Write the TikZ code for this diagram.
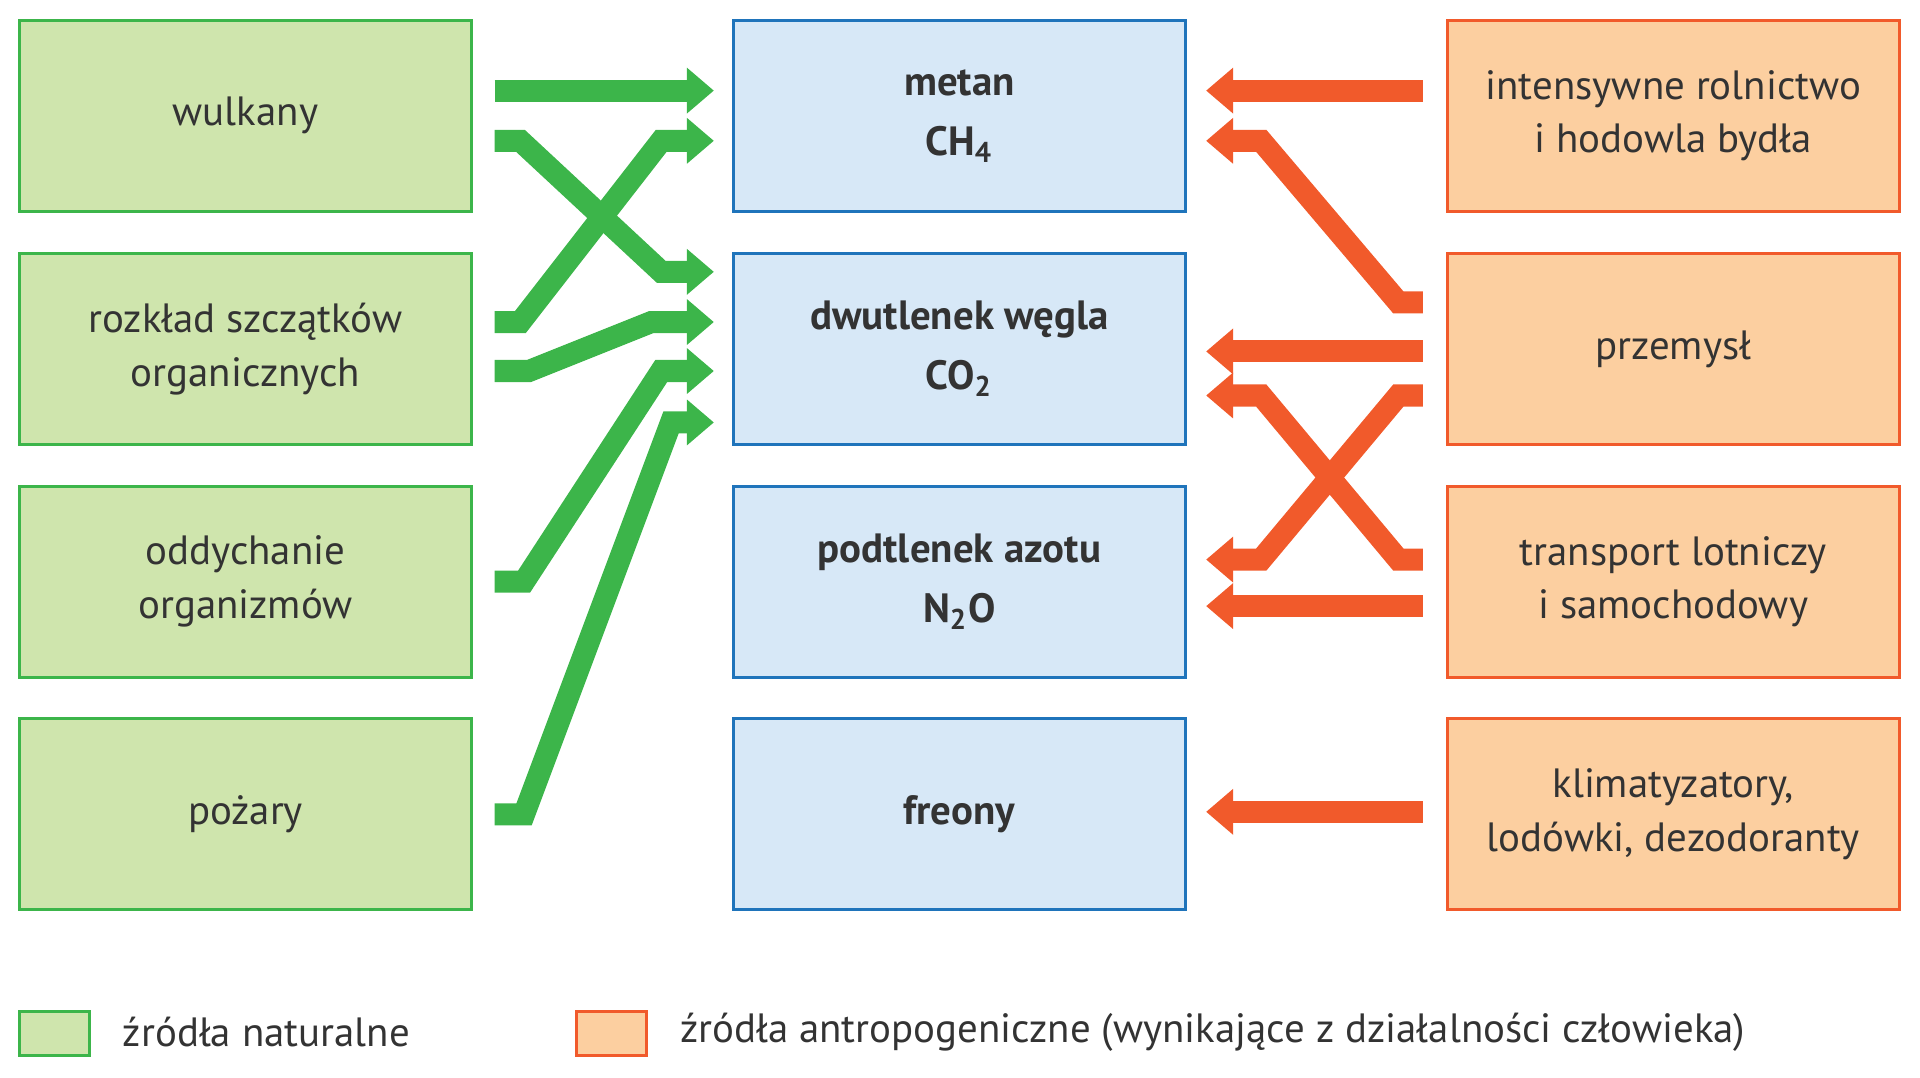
\documentclass[tikz,border=0pt]{standalone}
\usepackage{fontspec}
\setmainfont{PT Sans}
\usetikzlibrary{arrows.meta}
\definecolor{gfill}{HTML}{CFE5AD}
\definecolor{gline}{HTML}{3CB54A}
\definecolor{bfill}{HTML}{D7E8F7}
\definecolor{bline}{HTML}{1F74BB}
\definecolor{ofill}{HTML}{FCCFA0}
\definecolor{oline}{HTML}{F15A2B}
\definecolor{txt}{HTML}{333333}
\begin{document}
\begin{tikzpicture}[x=0.1mm,y=-0.1mm,
 box/.style={draw,line width=0.25mm,minimum width=36.9mm,minimum height=15.6mm,align=center,text=txt,font=\fontsize{9.5}{12.5}\selectfont},
 gbox/.style={box,fill=gfill,draw=gline},
 bbox/.style={box,fill=bfill,draw=bline,font=\fontsize{9.5}{14}\selectfont\bfseries},
 obox/.style={box,fill=ofill,draw=oline},
 band/.style={line width=1.8mm,line join=miter,-{Triangle[width=3.6mm,length=2.2mm]}},
 garr/.style={band,draw=gline},
 oarr/.style={band,draw=oline}]
\useasboundingbox (0,0) rectangle (1568,880);
\node[gbox] (l1) at (200.5,94.5) {wulkany};
\node[gbox] (l2) at (200.5,285) {rozkład szczątków\\organicznych};
\node[gbox] (l3) at (200.5,475) {oddychanie\\organizmów};
\node[gbox] (l4) at (200.5,665) {pożary};
\node[bbox] (m1) at (783.5,94.5) {metan\\CH\textsubscript{4}};
\node[bbox] (m2) at (783.5,285) {dwutlenek węgla\\CO\textsubscript{2}};
\node[bbox] (m3) at (783.5,475) {podtlenek azotu\\N\textsubscript{2}O};
\node[bbox] (m4) at (783.5,665) {freony};
\node[obox] (r1) at (1366.5,94.5) {intensywne rolnictwo\\i hodowla bydła};
\node[obox] (r2) at (1366.5,285) {przemysł};
\node[obox] (r3) at (1366.5,475) {transport lotniczy\\i samochodowy};
\node[obox] (r4) at (1366.5,665) {klimatyzatory,\\lodówki, dezodoranty};
% green
\draw[garr] (404,74) -- (583,74);
\draw[garr] (404,115) -- (425,115) -- (540,222) -- (583,222);
\draw[garr] (404,263) -- (425,263) -- (540,115) -- (583,115);
\draw[garr] (404,303) -- (432,303) -- (532,263) -- (583,263);
\draw[garr] (404,475) -- (428,475) -- (540,303) -- (583,303);
\draw[garr] (404,665) -- (428,665) -- (548,345) -- (583,345);
% orange
\draw[oarr] (1162,74) -- (985,74);
\draw[oarr] (1162,247) -- (1142,247) -- (1030,115) -- (985,115);
\draw[oarr] (1162,287) -- (985,287);
\draw[oarr] (1162,323) -- (1142,323) -- (1030,457) -- (985,457);
\draw[oarr] (1162,457) -- (1142,457) -- (1030,323) -- (985,323);
\draw[oarr] (1162,495) -- (985,495);
\draw[oarr] (1162,663) -- (985,663);
% legend
\node[draw=gline,fill=gfill,line width=0.25mm,minimum width=5.7mm,minimum height=3.6mm,inner sep=0] (lg) at (44.5,844) {};
\node[anchor=west,text=txt,font=\fontsize{9.5}{12}\selectfont] (lgt) at (88,843) {źródła naturalne};
\node[draw=oline,fill=ofill,line width=0.25mm,minimum width=5.7mm,minimum height=3.6mm,inner sep=0] (lo) at (499.5,844) {};
\node[anchor=west,text=txt,font=\fontsize{9.5}{12}\selectfont] (lot) at (543,843) {źródła antropogeniczne (wynikające z działalności człowieka)};
\end{tikzpicture}
\end{document}
